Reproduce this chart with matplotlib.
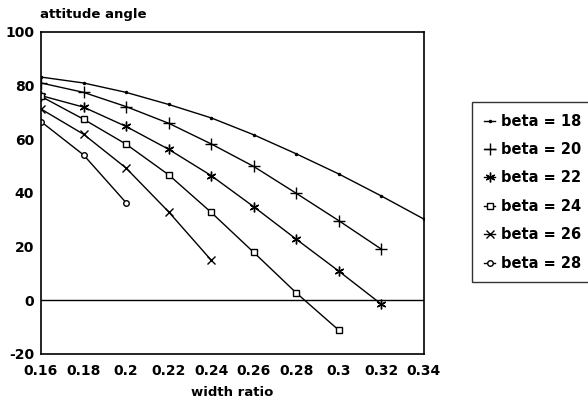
import matplotlib.pyplot as plt

plt.rcParams['font.family'] = ['DejaVu Sans']
plt.rcParams['font.weight'] = 'bold'
plt.rcParams['axes.unicode_minus'] = False

width_ratio = [0.16, 0.18, 0.20, 0.22, 0.24, 0.26, 0.28, 0.30, 0.32, 0.34]

beta_18 = [83.2, 81.0, 77.5, 73.0, 68.0, 61.7, 54.6, 47.1, 38.9, 30.3]
beta_20 = [81.0, 77.5, 72.2, 66.0, 58.3, 49.9, 39.9, 29.7, 19.1]
beta_22 = [76.3, 72.0, 64.8, 56.3, 46.5, 34.9, 22.8, 10.9, -1.4]
beta_24 = [76.0, 67.5, 58.2, 46.8, 32.8, 17.9, 2.8, -11.1]
beta_26 = [71.3, 61.9, 49.3, 33.0, 15.0]
beta_28 = [66.6, 54.2, 36.4]

series = [
    ('beta = 18', beta_18, '.', 3, 'k'),
    ('beta = 20', beta_20, '+', 8, 'k'),
    ('beta = 22', beta_22, (6, 2, 0), 7, 'k'),
    ('beta = 24', beta_24, 's', 4, 'white'),
    ('beta = 26', beta_26, 'x', 6, 'k'),
    ('beta = 28', beta_28, 'o', 4, 'white'),
]

fig = plt.figure(figsize=(5.88, 4.08), dpi=100)
ax = fig.add_axes([0.0697, 0.1324, 0.651, 0.7892])

for label, vals, mk, ms, fc in series:
    ax.plot(width_ratio[:len(vals)], vals, color='black', linewidth=1.0,
            marker=mk, markersize=ms, markerfacecolor=fc,
            markeredgecolor='black', markeredgewidth=1.0, label=label)

ax.axhline(0, color='black', linewidth=1.0)

ax.set_xlim(0.16, 0.34)
ax.set_ylim(-20, 100)
ax.set_xticks(width_ratio)
ax.set_xticklabels(['0.16', '0.18', '0.2', '0.22', '0.24', '0.26', '0.28',
                    '0.3', '0.32', '0.34'])
ax.set_yticks([-20, 0, 20, 40, 60, 80, 100])
ax.tick_params(length=0, labelsize=10)
ax.tick_params(axis='x', pad=7)
ax.tick_params(axis='y', pad=5)
for sp in ax.spines.values():
    sp.set_linewidth(1.2)

ax.set_xlabel('width ratio', fontsize=9.5, fontweight='bold', labelpad=6)
fig.text(0.068, 0.955, 'attitude angle', fontsize=9.5, fontweight='bold')

leg = ax.legend(loc='upper left', bbox_to_anchor=(472 / 588, 1 - 102 / 408),
                bbox_transform=fig.transFigure, frameon=True,
                fancybox=False, edgecolor='black', fontsize=10.5,
                handlelength=0.8, handletextpad=0.4, labelspacing=0.92,
                borderpad=0.8, borderaxespad=0)
leg.get_frame().set_linewidth(1.0)

fig.savefig('out.png', dpi=100)
